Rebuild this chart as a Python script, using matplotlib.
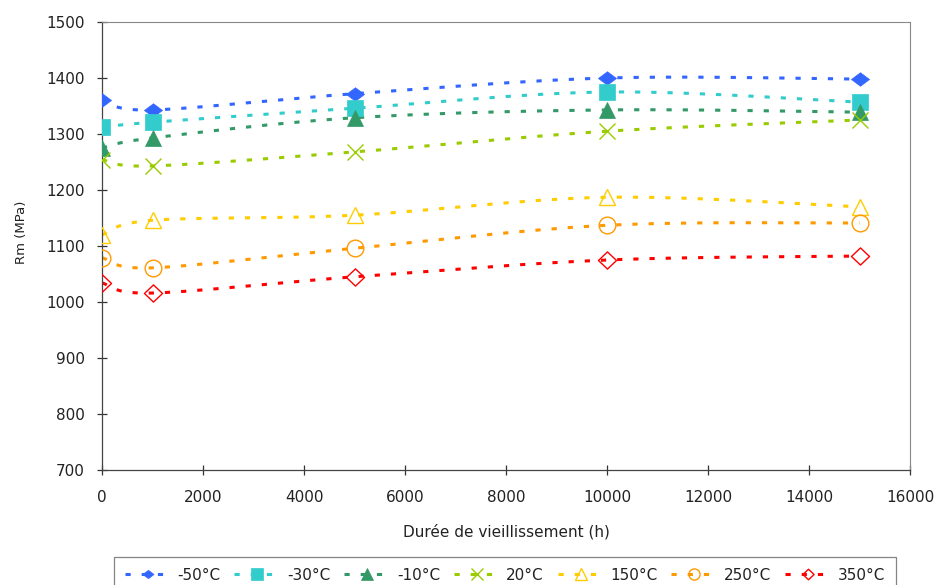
import numpy as np
import matplotlib
matplotlib.use("Agg")
import matplotlib.pyplot as plt
from matplotlib.path import Path

plt.rcParams['font.family'] = ['DejaVu Sans']

hours = [0, 1000, 5000, 10000, 15000]
series_labels = ['-50°C', '-30°C', '-10°C', '20°C', '150°C', '250°C', '350°C']
rm_m50 = [1360, 1343, 1372, 1400, 1398]
rm_m30 = [1312, 1321, 1346, 1375, 1357]
rm_m10 = [1275, 1293, 1329, 1343, 1339]
rm_20 = [1254, 1243, 1268, 1305, 1325]
rm_150 = [1120, 1146, 1155, 1187, 1170]
rm_250 = [1079, 1061, 1096, 1137, 1141]
rm_350 = [1034, 1016, 1045, 1075, 1082]
all_series = [rm_m50, rm_m30, rm_m10, rm_20, rm_150, rm_250, rm_350]

colors = ['#3366FF', '#33CCCC', '#339966', '#99CC00', '#FFCC00', '#FF9900', '#FF0000']

wide_diamond = Path([(-1, 0), (0, 0.75), (1, 0), (0, -0.75), (-1, 0)],
                    [Path.MOVETO, Path.LINETO, Path.LINETO, Path.LINETO, Path.CLOSEPOLY])
hollow_diamond = Path([(-1, 0), (0, 0.95), (1, 0), (0, -0.95), (-1, 0)],
                      [Path.MOVETO, Path.LINETO, Path.LINETO, Path.LINETO, Path.CLOSEPOLY])
markers = [wide_diamond, 's', '^', 'x', '^', 'o', hollow_diamond]
filled = [True, True, True, True, False, False, False]
msizes = [13, 11, 12, 12, 12, 12, 13]

fig = plt.figure(figsize=(9.4, 5.85), dpi=100)
ax = fig.add_axes([102/940, 1-470/585, 808/940, 448/585])
ax.set_xlim(0, 16000)
ax.set_ylim(700, 1500)

def smooth(xs, ys, sx, sy, n=40):
    # Excel-style Bezier smoothing computed in display-scaled coordinates
    P = np.column_stack([np.asarray(xs, float) * sx, np.asarray(ys, float) * sy])
    out = []
    m = len(P)
    for i in range(m - 1):
        p0 = P[i - 1] if i > 0 else P[i]
        p1 = P[i]
        p2 = P[i + 1]
        p3 = P[i + 2] if i + 2 < m else P[i + 1]
        c1 = p1 + (p2 - p0) / 6.0
        c2 = p2 - (p3 - p1) / 6.0
        t = np.linspace(0, 1, n)[:, None]
        seg = ((1 - t) ** 3) * p1 + 3 * ((1 - t) ** 2) * t * c1 + 3 * (1 - t) * t ** 2 * c2 + t ** 3 * p2
        out.append(seg if i == 0 else seg[1:])
    S = np.vstack(out)
    return S[:, 0] / sx, S[:, 1] / sy

sx = 808 / 16000
sy = 448 / 800
dash = (0, (1.7, 3.6))
handles = []
for vals, lab, c, mk, f, ms in zip(all_series, series_labels, colors, markers, filled, msizes):
    cx, cy = smooth(hours, vals, sx, sy)
    ax.plot(cx, cy, color=c, lw=2.2, linestyle=dash, zorder=2)
    if isinstance(mk, str) and mk == 'x':
        ax.plot(hours, vals, linestyle='none', marker='x', color=c, ms=ms, mew=1.0, zorder=3)
        h, = ax.plot([], [], color=c, lw=2.2, linestyle=dash, marker='x', ms=8, mew=1.0)
    elif f:
        ax.plot(hours, vals, linestyle='none', marker=mk, color=c, mfc=c, mec=c, ms=ms, mew=0.5, zorder=3)
        h, = ax.plot([], [], color=c, lw=2.2, linestyle=dash, marker=mk, ms=8, mfc=c, mec=c, mew=0.5)
    else:
        ax.plot(hours, vals, linestyle='none', marker=mk, color=c, mfc='none', mec=c, ms=ms, mew=1.0, zorder=3)
        h, = ax.plot([], [], color=c, lw=2.2, linestyle=dash, marker=mk, ms=8, mfc='none', mec=c, mew=1.0)
    handles.append(h)

ax.set_xticks(np.arange(0, 16001, 2000))
ax.set_yticks(np.arange(700, 1501, 100))
ax.tick_params(direction='inout', length=7, width=0.9, colors='#333333', labelsize=11, labelcolor='#222222')
ax.tick_params(axis='x', pad=11)
ax.tick_params(axis='y', pad=9)
for s in ax.spines.values():
    s.set_color('#444444')
    s.set_linewidth(0.9)
for s in ['top', 'right']:
    ax.spines[s].set_color('#888888')
    ax.spines[s].set_linewidth(0.8)

ax.set_xlabel('Durée de vieillissement (h)', fontsize=11, color='#222222')
ax.xaxis.set_label_coords(0.5, (470 - 532) / 448, transform=ax.transAxes)
ax.xaxis.label.set_va('center')
ax.set_ylabel('Rm (MPa)', fontsize=9.5, color='#222222')
ax.yaxis.set_label_coords((22 - 102) / 808, (470 - 232) / 448, transform=ax.transAxes)
ax.yaxis.label.set_va('center')

leg = fig.legend(handles, series_labels, loc='upper center', bbox_to_anchor=(505/940, 1-557/585),
                 ncol=7, frameon=True, fancybox=False, edgecolor='#666666', fontsize=11,
                 handlelength=3.0, handletextpad=0.45, columnspacing=0.9, borderpad=0.7,
                 borderaxespad=0)
for t in leg.get_texts():
    t.set_color('#222222')
leg.get_frame().set_linewidth(0.9)

fig.savefig('out.png', dpi=100)
